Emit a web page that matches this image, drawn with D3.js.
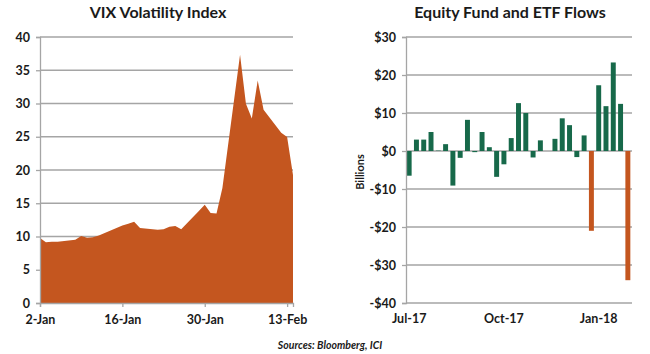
<!DOCTYPE html>
<html>
<head>
<meta charset="utf-8">
<script src="https://cdn.jsdelivr.net/npm/d3@7"></script>
<style>
  body { margin: 0; background: #fff; }
  text { font-family: Lato, "Open Sans", sans-serif; fill: #1a1a1a; }
</style>
</head>
<body>
<div id="chart"></div>
<script>
// VIX daily closes (trading days)
const vixDates = ["2018-01-02", "2018-01-03", "2018-01-04", "2018-01-05", "2018-01-08", "2018-01-09",
  "2018-01-10", "2018-01-11", "2018-01-12", "2018-01-16", "2018-01-17", "2018-01-18", "2018-01-19",
  "2018-01-22", "2018-01-23", "2018-01-24", "2018-01-25", "2018-01-26", "2018-01-29", "2018-01-30",
  "2018-01-31", "2018-02-01", "2018-02-02", "2018-02-05", "2018-02-06", "2018-02-07", "2018-02-08",
  "2018-02-09", "2018-02-12", "2018-02-13", "2018-02-14"];
const vixValues = [9.77, 9.15, 9.22, 9.22, 9.52, 10.08, 9.82, 9.88, 10.16, 11.66, 11.91, 12.22, 11.27,
  11.03, 11.10, 11.47, 11.58, 11.08, 13.84, 14.79, 13.54, 13.47, 17.31, 37.32, 29.98, 27.73, 33.46,
  29.06, 25.61, 24.97, 19.26];
const vixTicks = ["2018-01-02", "2018-01-16", "2018-01-30", "2018-02-13"];
const vixYTicks = [0, 5, 10, 15, 20, 25, 30, 35, 40];

// weekly equity fund + ETF flows, $ billions (31 weeks, Jul-17 .. Feb-18)
const flowWeeks = d3.range(31).map(i => "w" + i);
const flowValues = [-6.5, 3.0, 3.0, 5.0, 0.1, 1.8, -9.1, -1.8, 8.2, -0.3, 5.0, 1.0, -6.8, -3.5, 3.4,
  12.6, 10.0, -1.7, 2.8, 0.0, 3.2, 8.6, 6.8, -1.6, 4.1, -21.0, 17.3, 11.8, 23.3, 12.4, -34.0];
const flowTickLabels = { w0: "Jul-17", w13: "Oct-17", w26: "Jan-18" };
const flowYTicks = [-40, -30, -20, -10, 0, 10, 20, 30];

const W = 650, H = 354;
const orange = "#c4561f", green = "#17694a", gridCol = "#a5a5a5";

const svg = d3.select("#chart").append("svg")
  .attr("width", W).attr("height", H);

const parse = d3.timeParse("%Y-%m-%d");
const fmt = d3.timeFormat("%-d-%b");

// ---------- left: VIX ----------
const vix = vixDates.map((d, i) => ({ date: parse(d), value: vixValues[i] }));

const x1 = d3.scaleTime()
  .domain(d3.extent(vix, d => d.date))
  .range([40, 293]);
const y1 = d3.scaleLinear().domain([0, 40]).range([303, 37]);

const left = svg.append("g");

left.append("g")
  .selectAll("line").data(vixYTicks.filter(t => t > 0)).join("line")
  .attr("x1", 40).attr("x2", 293)
  .attr("y1", d => y1(d)).attr("y2", d => y1(d))
  .attr("stroke", gridCol).attr("stroke-width", 1.3);

left.append("path")
  .datum(vix)
  .attr("fill", orange)
  .attr("d", d3.area().x(d => x1(d.date)).y0(y1(0)).y1(d => y1(d.value)));

const ly = left.append("g")
  .attr("transform", "translate(40,0)")
  .call(d3.axisLeft(y1).tickValues(vixYTicks).tickSize(4).tickPadding(6));
const lx = left.append("g")
  .attr("transform", "translate(0,303)")
  .call(d3.axisBottom(x1).tickValues(vixTicks.map(parse)).tickFormat(fmt).tickSize(4).tickPadding(8));
[ly, lx].forEach(a => {
  a.select(".domain").attr("stroke", gridCol).attr("stroke-width", 1.3);
  a.selectAll(".tick line").attr("stroke", gridCol).attr("stroke-width", 1.3);
  a.selectAll("text").attr("font-size", 12.5).attr("font-weight", 700)
    .attr("font-family", "Lato, sans-serif").attr("fill", "#1a1a1a");
});

left.append("text")
  .attr("x", 158).attr("y", 18)
  .attr("text-anchor", "middle")
  .attr("font-size", 16).attr("font-weight", 700)
  .text("VIX Volatility Index");

// ---------- right: flows ----------
const x2 = d3.scaleBand().domain(flowWeeks).range([405.5, 631.5]).paddingInner(0.32).paddingOuter(0.16);
const y2 = d3.scaleLinear().domain([-40, 30]).range([303, 37]);

const right = svg.append("g");

right.append("g")
  .selectAll("line").data(flowYTicks.filter(t => t > -40)).join("line")
  .attr("x1", 406).attr("x2", 632)
  .attr("y1", d => y2(d)).attr("y2", d => y2(d))
  .attr("stroke", gridCol).attr("stroke-width", 1.3);

right.append("g")
  .selectAll("rect").data(flowValues).join("rect")
  .attr("x", (d, i) => x2(flowWeeks[i]))
  .attr("width", x2.bandwidth())
  .attr("y", d => y2(Math.max(0, d)))
  .attr("height", d => Math.abs(y2(d) - y2(0)))
  .attr("fill", (d, i) => (d < -15 ? orange : green));

const ry = right.append("g")
  .attr("transform", "translate(406,0)")
  .call(d3.axisLeft(y2).tickValues(flowYTicks).tickSize(4).tickPadding(6)
    .tickFormat(d => (d < 0 ? "-$" : "$") + Math.abs(d)));
const rx = right.append("g")
  .attr("transform", "translate(0,303)")
  .call(d3.axisBottom(x2).tickValues(Object.keys(flowTickLabels))
    .tickFormat(d => flowTickLabels[d]).tickSize(0).tickPadding(11));
[ry, rx].forEach(a => {
  a.select(".domain").attr("stroke", gridCol).attr("stroke-width", 1.3);
  a.selectAll(".tick line").attr("stroke", gridCol).attr("stroke-width", 1.3);
  a.selectAll("text").attr("font-size", 12.5).attr("font-weight", 700)
    .attr("font-family", "Lato, sans-serif").attr("fill", "#1a1a1a");
});
rx.select(".domain").attr("d", "M406,0H632");

right.append("text")
  .attr("x", 510).attr("y", 18)
  .attr("text-anchor", "middle")
  .attr("font-size", 16).attr("font-weight", 700)
  .text("Equity Fund and ETF Flows");

right.append("text")
  .attr("transform", "translate(364,172) rotate(-90)")
  .attr("text-anchor", "middle")
  .attr("font-size", 11).attr("font-weight", 700)
  .text("Billions");

// source note
svg.append("text")
  .attr("x", 330).attr("y", 349)
  .attr("text-anchor", "middle")
  .attr("font-size", 10.5).attr("font-weight", 700).attr("font-style", "italic")
  .text("Sources: Bloomberg, ICI");
</script>
</body>
</html>
